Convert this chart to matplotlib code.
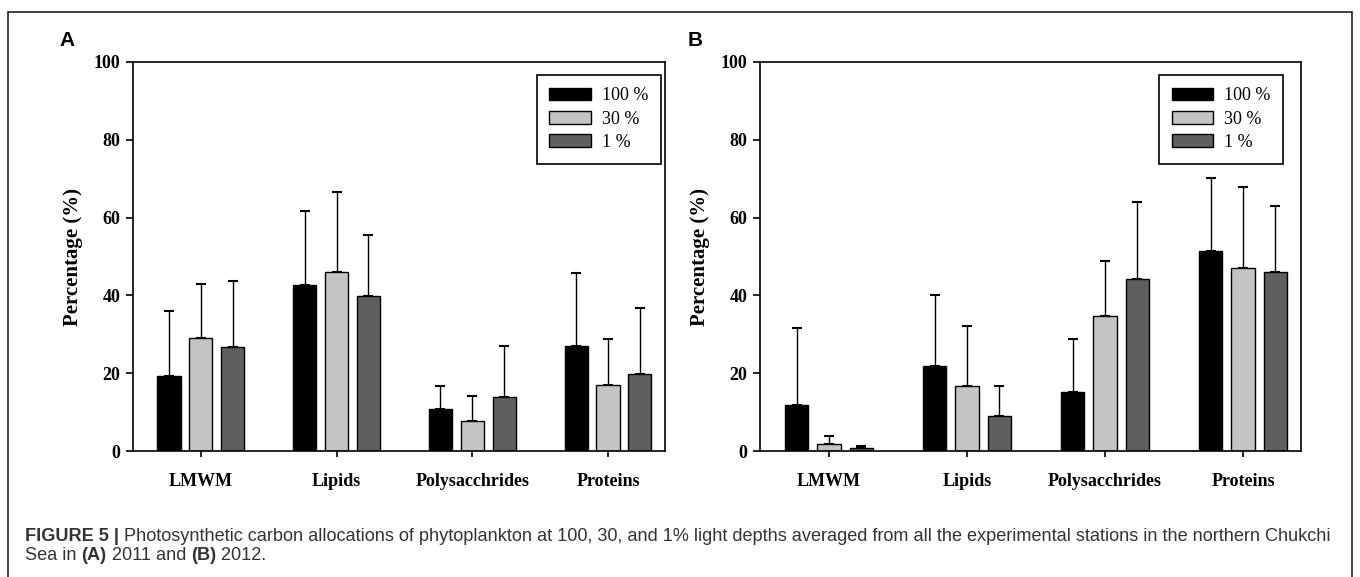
import matplotlib
matplotlib.use("Agg")
import matplotlib.pyplot as plt
import numpy as np
from matplotlib.patches import Rectangle

categories = ["LMWM", "Lipids", "Polysacchrides", "Proteins"]
series = ["100 %", "30 %", "1 %"]
colors = ["#000000", "#c4c4c4", "#5f5f5f"]

# Panel A (2011): means and upper error-bar tops
a_100 = [19.4, 42.6, 10.8, 27.1]
a_30 = [29.1, 46.1, 7.7, 17.0]
a_1 = [26.7, 39.8, 13.9, 19.9]
a_100_top = [36.0, 61.6, 16.6, 45.7]
a_30_top = [43.0, 66.5, 14.2, 28.8]
a_1_top = [43.7, 55.4, 27.1, 36.8]

# Panel B (2012)
b_100 = [11.8, 21.8, 15.2, 51.3]
b_30 = [1.8, 16.6, 34.6, 47.1]
b_1 = [0.8, 9.1, 44.1, 46.1]
b_100_top = [31.5, 40.2, 28.8, 70.3]
b_30_top = [3.9, 32.2, 48.8, 67.9]
b_1_top = [1.4, 16.6, 64.0, 63.0]

yticks = [0, 20, 40, 60, 80, 100]

W, H = 1360, 577
fig = plt.figure(figsize=(W / 100, H / 100), dpi=100)

serif = ["Liberation Serif", "DejaVu Serif"]
sans = ["Liberation Sans", "DejaVu Sans"]


def panel(rect, vals, tops, legend_x):
    ax = fig.add_axes(rect)
    x = np.arange(len(categories))
    bw = 0.17
    off = 0.235
    for i, (v, t) in enumerate(zip(vals, tops)):
        v = np.array(v)
        err = np.array(t) - v
        xs = x + (i - 1) * off
        ax.bar(xs, v, width=bw, color=colors[i], edgecolor="black",
               linewidth=1.0, label=series[i], zorder=2)
        ax.errorbar(xs, v, yerr=[np.zeros_like(err), err], fmt="none",
                    ecolor="black", elinewidth=1.0, capsize=3.5, capthick=1.5,
                    zorder=1)
    ax.set_xlim(-0.5, 3.42)
    ax.set_ylim(0, 100)
    ax.set_yticks(yticks)
    ax.set_yticklabels([str(t) for t in yticks], fontfamily=serif,
                       fontweight="bold", fontsize=13)
    ax.set_xticks(x)
    ax.set_xticklabels(categories, fontfamily=serif, fontweight="bold",
                       fontsize=13)
    ax.tick_params(axis="y", direction="out", length=5, width=1.2, pad=4)
    ax.tick_params(axis="x", direction="out", length=4, width=1.2, pad=12)
    for s in ax.spines.values():
        s.set_linewidth(1.2)
    ax.set_ylabel("Percentage (%)", fontfamily=serif, fontweight="bold",
                  fontsize=15, labelpad=8)
    leg = ax.legend(loc="upper right", bbox_to_anchor=(legend_x, 0.967),
                    prop={"family": serif, "size": 13}, frameon=True,
                    fancybox=False, edgecolor="black", framealpha=1,
                    handlelength=2.3, handleheight=0.7, labelspacing=0.35,
                    borderpad=0.7, handletextpad=0.6, borderaxespad=0)
    leg.get_frame().set_linewidth(1.2)
    return ax


axA = panel([133 / W, 1 - 451 / H, (665 - 133) / W, (451 - 62) / H],
            [a_100, a_30, a_1], [a_100_top, a_30_top, a_1_top], 0.992)
axB = panel([760 / W, 1 - 451 / H, (1301 - 760) / W, (451 - 62) / H],
            [b_100, b_30, b_1], [b_100_top, b_30_top, b_1_top], 0.967)

fig.text(67 / W, 1 - 40 / H, "A", fontfamily=sans, fontweight="bold",
         fontsize=15, ha="center", va="center")
fig.text(695 / W, 1 - 40 / H, "B", fontfamily=sans, fontweight="bold",
         fontsize=15, ha="center", va="center")

# outer frame
fig.patches.append(Rectangle((8 / W, -0.05), (1352 - 8) / W, 1.05 - 12 / H,
                             transform=fig.transFigure, fill=False,
                             edgecolor="#222222", linewidth=1.2,
                             clip_on=False))

cap_color = "#333333"
cap_size = 13.1

line1 = [("FIGURE 5 |", True),
         (" Photosynthetic carbon allocations of phytoplankton at 100, 30, and 1% light depths averaged from all the experimental stations in the northern Chukchi", False)]
line2 = [("Sea in ", False), ("(A)", True), (" 2011 and ", False),
         ("(B)", True), (" 2012.", False)]

fig.canvas.draw()
renderer = fig.canvas.get_renderer()


def place(parts, x0, y0):
    x = x0
    for txt, bold in parts:
        t = fig.text(x / W, 1 - y0 / H, txt, fontfamily=sans,
                     fontsize=cap_size, color=cap_color,
                     fontweight="bold" if bold else "normal",
                     ha="left", va="baseline")
        bb = t.get_window_extent(renderer)
        x = x + bb.width


place(line1, 25, 541)
place(line2, 25, 560)

fig.savefig("out.png", dpi=100)
